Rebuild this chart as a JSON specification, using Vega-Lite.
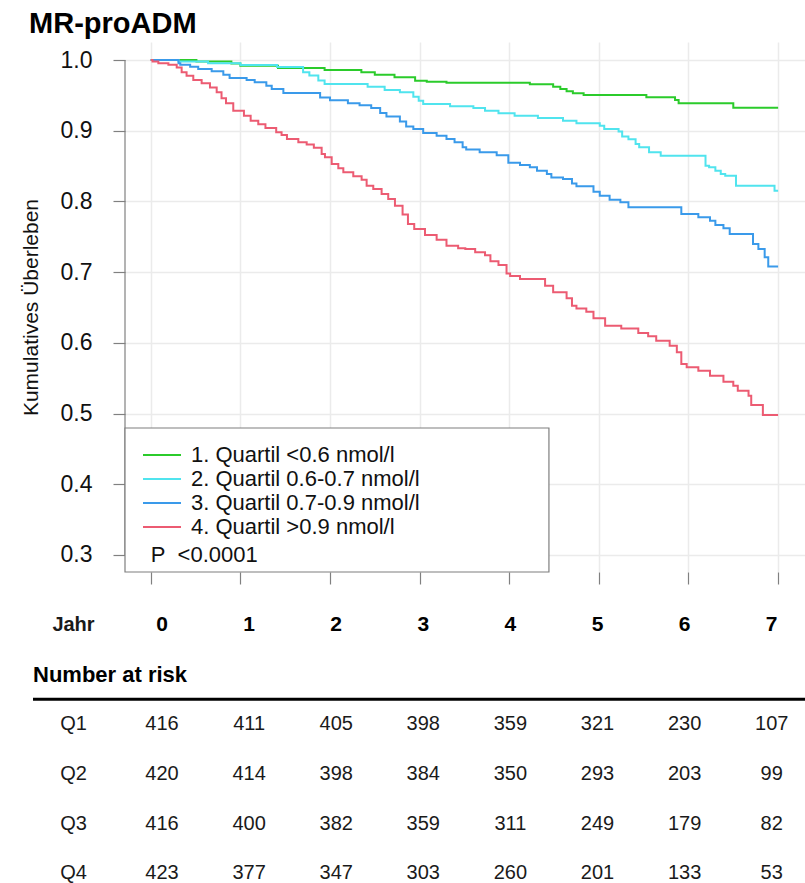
{
  "$schema": "https://vega.github.io/schema/vega-lite/v6.json",
  "padding": {"left": 20, "top": 10, "right": 0, "bottom": 0},
  "background": "white",
  "config": {"view": {"stroke": null}, "font": "Liberation Sans"},
  "spacing": 15,
  "resolve": {"scale": {"x": "independent", "y": "independent"}},
  "datasets": {
    "km": [
      {"g": "1", "t": 0, "s": 1.0}, {"g": "1", "t": 0.51, "s": 0.998}, {"g": "1", "t": 0.9, "s": 0.995}, {"g": "1", "t": 1.0, "s": 0.992},
      {"g": "1", "t": 1.42, "s": 0.9887}, {"g": "1", "t": 1.94, "s": 0.9859}, {"g": "1", "t": 2.35, "s": 0.9826}, {"g": "1", "t": 2.5, "s": 0.9793},
      {"g": "1", "t": 2.72, "s": 0.9755}, {"g": "1", "t": 2.95, "s": 0.9708}, {"g": "1", "t": 3.08, "s": 0.9693}, {"g": "1", "t": 3.3, "s": 0.968},
      {"g": "1", "t": 4.23, "s": 0.9656}, {"g": "1", "t": 4.49, "s": 0.9623}, {"g": "1", "t": 4.57, "s": 0.959}, {"g": "1", "t": 4.64, "s": 0.9557},
      {"g": "1", "t": 4.71, "s": 0.9529}, {"g": "1", "t": 4.83, "s": 0.9505}, {"g": "1", "t": 5.53, "s": 0.9472}, {"g": "1", "t": 5.85, "s": 0.9434},
      {"g": "1", "t": 5.89, "s": 0.9387}, {"g": "1", "t": 6.5, "s": 0.9326}, {"g": "1", "t": 7.0, "s": 0.9326},

      {"g": "2", "t": 0, "s": 1.0}, {"g": "2", "t": 0.31, "s": 0.998}, {"g": "2", "t": 0.64, "s": 0.9953}, {"g": "2", "t": 1.0, "s": 0.993},
      {"g": "2", "t": 1.41, "s": 0.99}, {"g": "2", "t": 1.7, "s": 0.9826}, {"g": "2", "t": 1.77, "s": 0.978}, {"g": "2", "t": 1.87, "s": 0.971},
      {"g": "2", "t": 1.94, "s": 0.9661}, {"g": "2", "t": 2.42, "s": 0.9623}, {"g": "2", "t": 2.61, "s": 0.9576}, {"g": "2", "t": 2.78, "s": 0.9543},
      {"g": "2", "t": 2.93, "s": 0.948}, {"g": "2", "t": 2.99, "s": 0.9425}, {"g": "2", "t": 3.04, "s": 0.9378}, {"g": "2", "t": 3.34, "s": 0.9345},
      {"g": "2", "t": 3.6, "s": 0.932}, {"g": "2", "t": 3.73, "s": 0.9283}, {"g": "2", "t": 3.88, "s": 0.9246}, {"g": "2", "t": 4.06, "s": 0.9212},
      {"g": "2", "t": 4.32, "s": 0.918}, {"g": "2", "t": 4.6, "s": 0.9142}, {"g": "2", "t": 4.75, "s": 0.9104}, {"g": "2", "t": 5.01, "s": 0.907},
      {"g": "2", "t": 5.06, "s": 0.9024}, {"g": "2", "t": 5.22, "s": 0.899}, {"g": "2", "t": 5.26, "s": 0.892}, {"g": "2", "t": 5.33, "s": 0.888},
      {"g": "2", "t": 5.41, "s": 0.8812}, {"g": "2", "t": 5.45, "s": 0.8765}, {"g": "2", "t": 5.56, "s": 0.8694}, {"g": "2", "t": 5.69, "s": 0.8647},
      {"g": "2", "t": 6.19, "s": 0.8505}, {"g": "2", "t": 6.23, "s": 0.8482}, {"g": "2", "t": 6.3, "s": 0.8434}, {"g": "2", "t": 6.36, "s": 0.8388},
      {"g": "2", "t": 6.41, "s": 0.8364}, {"g": "2", "t": 6.53, "s": 0.8222}, {"g": "2", "t": 6.96, "s": 0.815}, {"g": "2", "t": 7.0, "s": 0.815},

      {"g": "3", "t": 0, "s": 1.0}, {"g": "3", "t": 0.31, "s": 0.9953}, {"g": "3", "t": 0.33, "s": 0.9934}, {"g": "3", "t": 0.44, "s": 0.9906},
      {"g": "3", "t": 0.53, "s": 0.9873}, {"g": "3", "t": 0.68, "s": 0.984}, {"g": "3", "t": 0.81, "s": 0.9793}, {"g": "3", "t": 0.88, "s": 0.9745},
      {"g": "3", "t": 1.07, "s": 0.9717}, {"g": "3", "t": 1.16, "s": 0.9684}, {"g": "3", "t": 1.29, "s": 0.9637}, {"g": "3", "t": 1.35, "s": 0.959},
      {"g": "3", "t": 1.48, "s": 0.9535}, {"g": "3", "t": 1.89, "s": 0.947}, {"g": "3", "t": 2.0, "s": 0.943}, {"g": "3", "t": 2.2, "s": 0.939},
      {"g": "3", "t": 2.33, "s": 0.936}, {"g": "3", "t": 2.46, "s": 0.932}, {"g": "3", "t": 2.56, "s": 0.925}, {"g": "3", "t": 2.63, "s": 0.92},
      {"g": "3", "t": 2.78, "s": 0.913}, {"g": "3", "t": 2.85, "s": 0.906}, {"g": "3", "t": 2.93, "s": 0.9024}, {"g": "3", "t": 3.04, "s": 0.8967},
      {"g": "3", "t": 3.19, "s": 0.893}, {"g": "3", "t": 3.3, "s": 0.8883}, {"g": "3", "t": 3.39, "s": 0.8836}, {"g": "3", "t": 3.48, "s": 0.8765},
      {"g": "3", "t": 3.52, "s": 0.8735}, {"g": "3", "t": 3.67, "s": 0.8694}, {"g": "3", "t": 3.86, "s": 0.8652}, {"g": "3", "t": 3.99, "s": 0.8548},
      {"g": "3", "t": 4.12, "s": 0.8515}, {"g": "3", "t": 4.23, "s": 0.8482}, {"g": "3", "t": 4.31, "s": 0.8435}, {"g": "3", "t": 4.42, "s": 0.8388},
      {"g": "3", "t": 4.47, "s": 0.834}, {"g": "3", "t": 4.6, "s": 0.8317}, {"g": "3", "t": 4.7, "s": 0.8255}, {"g": "3", "t": 4.75, "s": 0.8213},
      {"g": "3", "t": 4.94, "s": 0.8138}, {"g": "3", "t": 5.01, "s": 0.8081}, {"g": "3", "t": 5.12, "s": 0.8024}, {"g": "3", "t": 5.24, "s": 0.7987},
      {"g": "3", "t": 5.33, "s": 0.7916}, {"g": "3", "t": 5.92, "s": 0.7822}, {"g": "3", "t": 6.11, "s": 0.7775}, {"g": "3", "t": 6.24, "s": 0.7728},
      {"g": "3", "t": 6.3, "s": 0.7666}, {"g": "3", "t": 6.39, "s": 0.7619}, {"g": "3", "t": 6.46, "s": 0.7539}, {"g": "3", "t": 6.72, "s": 0.7397},
      {"g": "3", "t": 6.78, "s": 0.7327}, {"g": "3", "t": 6.85, "s": 0.7209}, {"g": "3", "t": 6.89, "s": 0.7081}, {"g": "3", "t": 7.0, "s": 0.7081},

      {"g": "4", "t": 0, "s": 1.0}, {"g": "4", "t": 0.02, "s": 0.998}, {"g": "4", "t": 0.085, "s": 0.9953}, {"g": "4", "t": 0.197, "s": 0.9934},
      {"g": "4", "t": 0.29, "s": 0.9896}, {"g": "4", "t": 0.345, "s": 0.9826}, {"g": "4", "t": 0.4, "s": 0.9778}, {"g": "4", "t": 0.475, "s": 0.9717},
      {"g": "4", "t": 0.568, "s": 0.967}, {"g": "4", "t": 0.661, "s": 0.9613}, {"g": "4", "t": 0.736, "s": 0.9543}, {"g": "4", "t": 0.79, "s": 0.946},
      {"g": "4", "t": 0.84, "s": 0.939}, {"g": "4", "t": 0.921, "s": 0.9283}, {"g": "4", "t": 1.04, "s": 0.9212}, {"g": "4", "t": 1.115, "s": 0.9142},
      {"g": "4", "t": 1.2, "s": 0.909}, {"g": "4", "t": 1.28, "s": 0.904}, {"g": "4", "t": 1.4, "s": 0.898}, {"g": "4", "t": 1.46, "s": 0.8939},
      {"g": "4", "t": 1.52, "s": 0.8883}, {"g": "4", "t": 1.647, "s": 0.8836}, {"g": "4", "t": 1.74, "s": 0.8805}, {"g": "4", "t": 1.82, "s": 0.8758},
      {"g": "4", "t": 1.907, "s": 0.8671}, {"g": "4", "t": 1.944, "s": 0.8623}, {"g": "4", "t": 2.019, "s": 0.8529}, {"g": "4", "t": 2.093, "s": 0.8468},
      {"g": "4", "t": 2.149, "s": 0.8411}, {"g": "4", "t": 2.26, "s": 0.8355}, {"g": "4", "t": 2.353, "s": 0.8307}, {"g": "4", "t": 2.409, "s": 0.8222},
      {"g": "4", "t": 2.483, "s": 0.8175}, {"g": "4", "t": 2.576, "s": 0.8104}, {"g": "4", "t": 2.65, "s": 0.8033}, {"g": "4", "t": 2.725, "s": 0.7939},
      {"g": "4", "t": 2.81, "s": 0.7815}, {"g": "4", "t": 2.87, "s": 0.7681}, {"g": "4", "t": 2.94, "s": 0.761}, {"g": "4", "t": 3.06, "s": 0.7525},
      {"g": "4", "t": 3.19, "s": 0.7459}, {"g": "4", "t": 3.3, "s": 0.7374}, {"g": "4", "t": 3.43, "s": 0.7336}, {"g": "4", "t": 3.51, "s": 0.7327},
      {"g": "4", "t": 3.62, "s": 0.728}, {"g": "4", "t": 3.73, "s": 0.7237}, {"g": "4", "t": 3.79, "s": 0.7155}, {"g": "4", "t": 3.88, "s": 0.71},
      {"g": "4", "t": 3.97, "s": 0.698}, {"g": "4", "t": 4.01, "s": 0.6945}, {"g": "4", "t": 4.12, "s": 0.6903}, {"g": "4", "t": 4.4, "s": 0.6808},
      {"g": "4", "t": 4.49, "s": 0.6714}, {"g": "4", "t": 4.64, "s": 0.6629}, {"g": "4", "t": 4.7, "s": 0.6525}, {"g": "4", "t": 4.75, "s": 0.6487},
      {"g": "4", "t": 4.86, "s": 0.644}, {"g": "4", "t": 4.94, "s": 0.6346}, {"g": "4", "t": 5.07, "s": 0.6242}, {"g": "4", "t": 5.25, "s": 0.6204},
      {"g": "4", "t": 5.44, "s": 0.6138}, {"g": "4", "t": 5.55, "s": 0.6091}, {"g": "4", "t": 5.64, "s": 0.603}, {"g": "4", "t": 5.79, "s": 0.5959},
      {"g": "4", "t": 5.87, "s": 0.5865}, {"g": "4", "t": 5.92, "s": 0.57}, {"g": "4", "t": 5.98, "s": 0.5653}, {"g": "4", "t": 6.11, "s": 0.5606},
      {"g": "4", "t": 6.24, "s": 0.5535}, {"g": "4", "t": 6.39, "s": 0.545}, {"g": "4", "t": 6.5, "s": 0.5393}, {"g": "4", "t": 6.55, "s": 0.5323},
      {"g": "4", "t": 6.67, "s": 0.5252}, {"g": "4", "t": 6.7, "s": 0.512}, {"g": "4", "t": 6.83, "s": 0.4978}, {"g": "4", "t": 7.0, "s": 0.4978}
    ],
    "risk": [
      {"row": "Q1", "year": 0, "n": 416}, {"row": "Q1", "year": 1, "n": 411}, {"row": "Q1", "year": 2, "n": 405}, {"row": "Q1", "year": 3, "n": 398},
      {"row": "Q1", "year": 4, "n": 359}, {"row": "Q1", "year": 5, "n": 321}, {"row": "Q1", "year": 6, "n": 230}, {"row": "Q1", "year": 7, "n": 107},
      {"row": "Q2", "year": 0, "n": 420}, {"row": "Q2", "year": 1, "n": 414}, {"row": "Q2", "year": 2, "n": 398}, {"row": "Q2", "year": 3, "n": 384},
      {"row": "Q2", "year": 4, "n": 350}, {"row": "Q2", "year": 5, "n": 293}, {"row": "Q2", "year": 6, "n": 203}, {"row": "Q2", "year": 7, "n": 99},
      {"row": "Q3", "year": 0, "n": 416}, {"row": "Q3", "year": 1, "n": 400}, {"row": "Q3", "year": 2, "n": 382}, {"row": "Q3", "year": 3, "n": 359},
      {"row": "Q3", "year": 4, "n": 311}, {"row": "Q3", "year": 5, "n": 249}, {"row": "Q3", "year": 6, "n": 179}, {"row": "Q3", "year": 7, "n": 82},
      {"row": "Q4", "year": 0, "n": 423}, {"row": "Q4", "year": 1, "n": 377}, {"row": "Q4", "year": 2, "n": 347}, {"row": "Q4", "year": 3, "n": 303},
      {"row": "Q4", "year": 4, "n": 260}, {"row": "Q4", "year": 5, "n": 201}, {"row": "Q4", "year": 6, "n": 133}, {"row": "Q4", "year": 7, "n": 53}
    ]
  },
  "vconcat": [
    {
      "width": 680,
      "height": 530,
      "title": {"text": "MR-proADM", "anchor": "start", "frame": "bounds", "fontSize": 29, "fontWeight": "bold", "font": "Liberation Sans", "color": "#000000", "baseline": "alphabetic", "offset": -20, "dx": 9},
      "layer": [
        {
          "data": {"name": "km"},
          "mark": {"type": "line", "interpolate": "step-after", "strokeWidth": 2},
          "encoding": {
            "x": {"field": "t", "type": "quantitative", "scale": {"domain": [-0.287, 7.3], "nice": false, "zero": false},
                  "axis": {"values": [0, 1, 2, 3, 4, 5, 6, 7], "labels": false, "domain": false, "ticks": true, "tickSize": 12, "tickColor": "#808080", "tickWidth": 1.2, "grid": true, "gridColor": "#ebebeb", "gridWidth": 1.5, "title": null}},
            "y": {"field": "s", "type": "quantitative", "scale": {"domain": [0.2758, 1.0255], "nice": false, "zero": false},
                  "axis": {"values": [0.3, 0.4, 0.5, 0.6, 0.7, 0.8, 0.9, 1.0], "format": ".1f", "domain": false, "tickSize": 12, "tickColor": "#808080", "tickWidth": 1.2,
                           "labelFontSize": 23, "labelColor": "#111111", "labelPadding": 21, "labelFont": "Liberation Sans", "grid": true, "gridColor": "#ebebeb", "gridWidth": 1.5,
                           "title": "Kumulatives Überleben", "titleFontSize": 21, "titleFontWeight": "normal", "titleColor": "#111111", "titlePadding": 19, "titleFont": "Liberation Sans"}},
            "color": {"field": "g", "type": "nominal",
                      "scale": {"domain": ["1", "2", "3", "4"], "range": ["#2bcb2b", "#50e4ee", "#3a9aea", "#ec5b72"]},
                      "legend": {"orient": "none", "legendX": 17, "legendY": 402, "title": null, "symbolType": "stroke", "symbolSize": 1444, "symbolStrokeWidth": 2, "clipHeight": 22,
                                 "labelFontSize": 22, "labelFont": "Liberation Sans", "labelColor": "#111111", "labelOffset": 9, "rowPadding": 2, "labelLimit": 400, "padding": 0,
                                 "labelExpr": "{'1': '1. Quartil <0.6 nmol/l', '2': '2. Quartil 0.6-0.7 nmol/l', '3': '3. Quartil 0.7-0.9 nmol/l', '4': '4. Quartil >0.9 nmol/l'}[datum.label]"}}
          }
        },
        {
          "data": {"values": [{}]},
          "mark": {"type": "rule", "color": "#808080", "strokeWidth": 1.2},
          "encoding": {"x": {"datum": -0.287}, "y": {"datum": 0.3}, "y2": {"datum": 1.0}}
        },
        {
          "data": {"values": [{}]},
          "mark": {"type": "rect", "fill": "white", "stroke": "#7f7f7f", "strokeWidth": 1.2},
          "encoding": {"x": {"datum": -0.287}, "x2": {"datum": 4.443}, "y": {"datum": 0.2758}, "y2": {"datum": 0.4795}}
        },
        {
          "data": {"values": [{"p": "P\u00a0\u00a0<0.0001"}]},
          "mark": {"type": "text", "align": "left", "baseline": "middle", "fontSize": 22, "color": "#111111", "font": "Liberation Sans"},
          "encoding": {"x": {"datum": 0}, "y": {"datum": 0.3}, "text": {"field": "p"}}
        }
      ]
    },
    {
      "width": 680,
      "height": 298,
      "data": {"name": "risk"},
      "layer": [
        {
          "mark": {"type": "text", "font": "Liberation Sans", "fontSize": 20, "color": "#1a1a1a", "baseline": "middle"},
          "encoding": {
            "x": {"field": "year", "type": "quantitative", "scale": {"domain": [-0.4248, 7.3823], "nice": false, "zero": false}, "axis": null},
            "y": {"field": "row", "type": "nominal", "scale": {"type": "band", "domain": ["Jahr", "Number at risk", "Q1", "Q2", "Q3", "Q4"], "paddingInner": 0, "paddingOuter": 0},
                  "axis": {"domain": false, "ticks": false, "tickSize": 0, "grid": false, "title": null, "labelAlign": "center", "labelPadding": 52,
                           "labelFont": "Liberation Sans", "labelFontSize": 20, "labelColor": "#1a1a1a",
                           "labelExpr": "datum.value === 'Number at risk' ? '' : datum.value",
                           "labelFontWeight": {"condition": {"test": "datum.value === 'Jahr'", "value": "bold"}, "value": "normal"}}},
            "text": {"field": "n"}
          }
        },
        {
          "transform": [{"filter": "datum.row === 'Q1'"}],
          "mark": {"type": "text", "font": "Liberation Sans", "fontSize": 21, "fontWeight": "bold", "color": "#000000", "baseline": "middle"},
          "encoding": {
            "x": {"field": "year", "type": "quantitative"},
            "y": {"datum": "Jahr"},
            "text": {"field": "year"}
          }
        },
        {
          "data": {"values": [{"h": "Number at risk"}]},
          "mark": {"type": "text", "font": "Liberation Sans", "fontSize": 22, "fontWeight": "bold", "color": "#000000", "align": "left", "baseline": "middle"},
          "encoding": {"x": {"datum": -1.481}, "y": {"datum": "Number at risk"}, "text": {"field": "h"}}
        },
        {
          "data": {"values": [{}]},
          "mark": {"type": "rule", "color": "#000000", "strokeWidth": 3},
          "encoding": {"x": {"datum": -1.481}, "x2": {"datum": 7.3823}, "y": {"datum": "Q1", "bandPosition": 0}}
        }
      ]
    }
  ]
}
